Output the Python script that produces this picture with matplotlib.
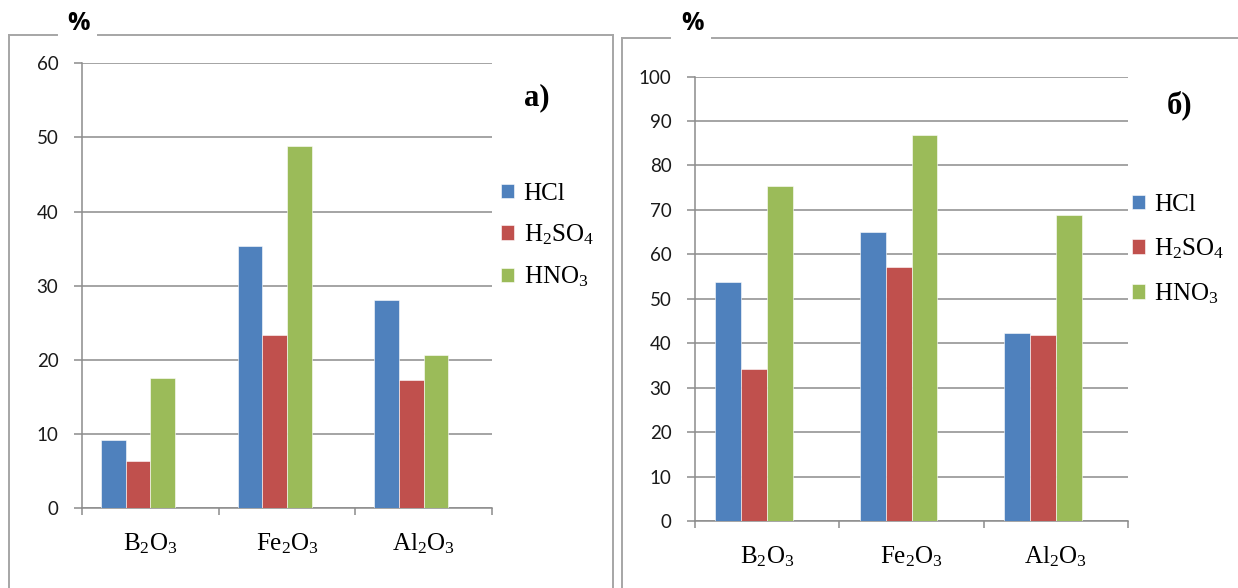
#!/usr/bin/env python3
"""Two Excel-style grouped bar charts: oxide extraction by acid, panels a) and b)."""

import matplotlib

matplotlib.use("Agg")
import matplotlib.pyplot as plt
from matplotlib.lines import Line2D
import numpy as np

plt.rcParams["mathtext.fontset"] = "custom"
plt.rcParams["mathtext.rm"] = "Liberation Serif"
plt.rcParams["mathtext.it"] = "Liberation Serif:italic"
plt.rcParams["mathtext.bf"] = "Liberation Serif:bold"

CATEGORIES = [r"B$_2$O$_3$", r"Fe$_2$O$_3$", r"Al$_2$O$_3$"]
SERIES = ["HCl", r"H$_2$SO$_4$", r"HNO$_3$"]
COLORS = ["#4F81BD", "#C0504D", "#9BBB59"]

# panel a)
VALUES_A = {
    "HCl": [9.2, 35.4, 28.1],
    "H2SO4": [6.4, 23.4, 17.3],
    "HNO3": [17.5, 48.9, 20.7],
}
# panel b)
VALUES_B = {
    "HCl": [53.8, 65.0, 42.3],
    "H2SO4": [34.1, 57.1, 41.8],
    "HNO3": [75.4, 86.8, 68.9],
}

GRID = "#8C8C8C"
FRAME = "#A6A6A6"
W, H = 1238, 588


def fx(px):
    return px / W


def fy(py):
    return 1 - py / H


def draw_panel(fig, rect, values, ymax, panel_label, label_xy, legend_xy, spacing):
    ax = fig.add_axes(rect)
    slot = 0.18
    x = np.arange(len(CATEGORIES)) + 0.5
    for i, (key, color, name) in enumerate(zip(values, COLORS, SERIES)):
        offs = (i - 1.5) * slot
        ax.bar(x + offs, values[key], width=slot, color=color, label=name,
               edgecolor="#FFFFFF", linewidth=0.4, zorder=3)

    ax.set_xlim(0, len(CATEGORIES))
    ax.set_ylim(0, ymax)
    ax.set_yticks(np.arange(0, ymax + 1, 10))
    ax.yaxis.grid(True, color=GRID, linewidth=1.1, zorder=0)
    ax.set_axisbelow(True)

    ax.set_xticks([0, 1, 2, 3])
    ax.set_xticklabels([])
    ax.set_xticks(x, minor=True)
    ax.set_xticklabels(CATEGORIES, minor=True, fontsize=18, family="Liberation Serif")
    ax.tick_params(axis="x", which="major", length=5, width=1.1, color=GRID, direction="out")
    ax.tick_params(axis="x", which="minor", length=0, pad=17)
    ax.tick_params(axis="y", length=6, width=1.1, color=GRID, pad=11)
    for lab in ax.get_yticklabels():
        lab.set_family("Lato")
        lab.set_fontsize(13.5)
        lab.set_color("#1A1A1A")

    for side in ("top", "right"):
        ax.spines[side].set_visible(False)
    for side in ("left", "bottom"):
        ax.spines[side].set_color(GRID)
        ax.spines[side].set_linewidth(1.1)

    fig.text(fx(label_xy[0]), fy(label_xy[1]), panel_label, fontsize=22,
             fontweight="bold", family="Liberation Serif", ha="center", va="center")

    handles, labels = ax.get_legend_handles_labels()
    fig.legend(handles, labels, loc="center left",
               bbox_to_anchor=(fx(legend_xy[0]), fy(legend_xy[1])),
               frameon=False, prop={"family": "Liberation Serif", "size": 18},
               handlelength=0.5, handleheight=0.5, handletextpad=0.4,
               labelspacing=spacing, borderpad=0, borderaxespad=0)
    return ax


fig = plt.figure(figsize=(W / 100, H / 100), dpi=100)

draw_panel(fig, [fx(82), fy(508), fx(492 - 82), (508 - 63.3) / H],
           VALUES_A, 60, "а)", (537, 98), (501, 236), 0.7)
draw_panel(fig, [fx(695), fy(521), fx(1128 - 695), (521 - 76.5) / H],
           VALUES_B, 100, "б)", (1180, 105), (1132, 250), 0.82)

# chart frames with a gap for the "%" title
frames = [
    ((9, 35, 613), (57, 98), 79),
    ((622, 37.5, 1240), (670, 712), 692),
]
for (left, top, right), (g0, g1), px in frames:
    kw = dict(color=FRAME, linewidth=1.4, transform=fig.transFigure)
    fig.add_artist(Line2D([fx(left), fx(left)], [fy(top), fy(H + 5)], **kw))
    fig.add_artist(Line2D([fx(left), fx(g0)], [fy(top), fy(top)], **kw))
    fig.add_artist(Line2D([fx(g1), fx(right)], [fy(top), fy(top)], **kw))
    fig.add_artist(Line2D([fx(right), fx(right)], [fy(top), fy(H + 5)], **kw))
    fig.text(fx(px), fy(24), "%", fontsize=18, fontweight="bold", family="Open Sans",
             ha="center", va="center")

fig.savefig("out.png", dpi=100)
plt.close(fig)
